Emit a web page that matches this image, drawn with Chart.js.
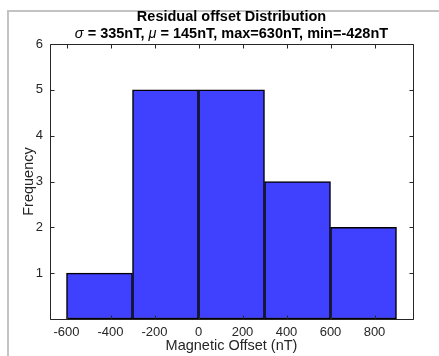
<!DOCTYPE html>
<html>
<head>
<meta charset="utf-8">
<script src="https://cdn.jsdelivr.net/npm/chart.js@4/dist/chart.umd.min.js"></script>
<style>
  html, body { margin: 0; padding: 0; background: #fff; }
  #wrap { position: relative; width: 439px; height: 356px; }
  canvas { position: absolute; left: 0; top: 0; }
</style>
</head>
<body>
<div id="wrap"><canvas id="c" width="439" height="356"></canvas></div>
<script>
// Histogram bins (nT) and counts
const binEdges = [-600, -300, 0, 300, 600, 900];
const binCounts = [1, 5, 5, 3, 2];
const xTickValues = [-600, -400, -200, 0, 200, 400, 600, 800];
const yTickValues = [0, 1, 2, 3, 4, 5, 6];
const xLimits = [-675, 975];
const yLimits = [0, 6];

const titleLine1 = 'Residual offset Distribution';
const statSigma = 335, statMu = 145, statMax = 630, statMin = -428;
const xLabel = 'Magnetic Offset (nT)';
const yLabel = 'Frequency';

const FONT = '"Liberation Sans", Arial, Helvetica, sans-serif';
const AXIS_COLOR = '#262626';

const barData = binCounts.map((c, i) => ({ x: (binEdges[i] + binEdges[i + 1]) / 2, y: c }));

// Page frame lines
const framePlugin = {
  id: 'frame',
  beforeDraw(chart) {
    const ctx = chart.ctx;
    ctx.save();
    ctx.fillStyle = '#fff';
    ctx.fillRect(0, 0, chart.width, chart.height);
    ctx.strokeStyle = '#c3c3c3';
    ctx.lineWidth = 2;
    ctx.beginPath();
    ctx.moveTo(8, 356);
    ctx.lineTo(8, 11);
    ctx.lineTo(439, 11);
    ctx.stroke();
    ctx.restore();
  }
};

// Box axes with inward ticks, titles and axis labels
const axesPlugin = {
  id: 'boxAxes',
  afterDatasetsDraw(chart) {
    const { ctx, chartArea: a, scales } = chart;
    const xs = scales.x, ys = scales.y;
    ctx.save();
    ctx.strokeStyle = AXIS_COLOR;
    ctx.lineWidth = 1;
    const L = Math.round(a.left) + 0.5, R = Math.round(a.right) + 0.5;
    const T = Math.round(a.top) + 0.5, B = Math.round(a.bottom) + 0.5;
    ctx.beginPath();
    ctx.rect(L, T, R - L, B - T);
    ctx.stroke();
    const tl = 4;
    ctx.beginPath();
    xTickValues.forEach(v => {
      const px = Math.round(xs.getPixelForValue(v)) + 0.5;
      ctx.moveTo(px, B); ctx.lineTo(px, B - tl);
      ctx.moveTo(px, T); ctx.lineTo(px, T + tl);
    });
    yTickValues.forEach(v => {
      const py = Math.round(ys.getPixelForValue(v)) + 0.5;
      ctx.moveTo(L, py); ctx.lineTo(L + tl, py);
      ctx.moveTo(R, py); ctx.lineTo(R - tl, py);
    });
    ctx.stroke();

    const cx = (a.left + a.right) / 2;
    ctx.fillStyle = '#000';
    ctx.textBaseline = 'alphabetic';
    ctx.textAlign = 'center';
    ctx.font = 'bold 14.5px ' + FONT;
    ctx.fillText(titleLine1, cx, 21);

    // second title line with italic greek symbols
    const parts = [
      { t: 'σ', f: 'italic 14.5px ' + FONT },
      { t: ' = ' + statSigma + 'nT, ', f: 'bold 14.5px ' + FONT },
      { t: 'μ', f: 'italic 14.5px ' + FONT },
      { t: ' = ' + statMu + 'nT, max=' + statMax + 'nT, min=' + statMin + 'nT', f: 'bold 14.5px ' + FONT }
    ];
    let total = 0;
    parts.forEach(p => { ctx.font = p.f; p.w = ctx.measureText(p.t).width; total += p.w; });
    let x0 = cx - total / 2;
    ctx.textAlign = 'left';
    parts.forEach(p => { ctx.font = p.f; ctx.fillText(p.t, x0, 38); x0 += p.w; });

    ctx.fillStyle = AXIS_COLOR;
    ctx.textAlign = 'center';
    ctx.font = '14.5px ' + FONT;
    ctx.fillText(xLabel, cx, 350);
    ctx.save();
    ctx.translate(33, (a.top + a.bottom) / 2);
    ctx.rotate(-Math.PI / 2);
    ctx.fillText(yLabel, 0, 0);
    ctx.restore();
    ctx.restore();
  }
};

new Chart(document.getElementById('c'), {
  type: 'bar',
  data: {
    datasets: [{
      data: barData,
      backgroundColor: 'rgb(64,64,255)',
      borderColor: '#000',
      borderWidth: 1.5,
      borderSkipped: false,
      barThickness: 'flex',
      barPercentage: 1,
      categoryPercentage: 1
    }]
  },
  options: {
    responsive: false,
    animation: false,
    devicePixelRatio: 1,
    layout: { padding: { top: 44, right: 26, left: 0, bottom: 0 } },
    plugins: { legend: { display: false }, title: { display: false }, tooltip: { enabled: false } },
    scales: {
      x: {
        type: 'linear',
        offset: false,
        min: xLimits[0], max: xLimits[1],
        afterBuildTicks: s => { s.ticks = xTickValues.map(v => ({ value: v })); },
        afterFit: s => { s.height = 37; },
        grid: { display: false, drawTicks: false, offset: false },
        border: { display: false },
        ticks: { color: AXIS_COLOR, font: { family: FONT, size: 13 }, padding: 6, maxRotation: 0, autoSkip: false }
      },
      y: {
        min: yLimits[0], max: yLimits[1],
        afterBuildTicks: s => { s.ticks = yTickValues.map(v => ({ value: v })); },
        afterFit: s => { s.width = 50; },
        grid: { display: false, drawTicks: false },
        border: { display: false },
        ticks: { color: AXIS_COLOR, font: { family: FONT, size: 13 }, padding: 7,
                 callback: v => (v === 0 ? '' : String(v)) }
      }
    }
  },
  plugins: [framePlugin, axesPlugin]
});
</script>
</body>
</html>
